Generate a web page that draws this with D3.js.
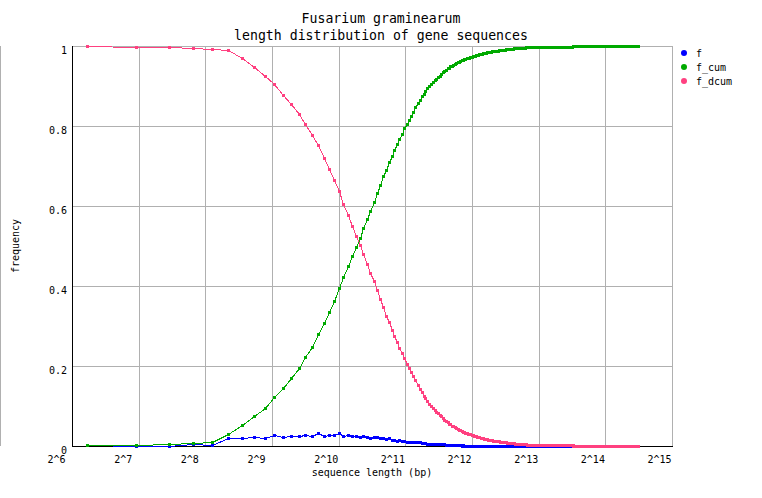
<!DOCTYPE html>
<html>
<head>
<meta charset="utf-8">
<script src="https://cdn.jsdelivr.net/npm/d3@7"></script>
<style>
  body { margin: 0; background: #fff; }
  text { font-family: "DejaVu Sans Mono", monospace; fill: #000; }
</style>
</head>
<body>
<svg id="chart"></svg>
<script>
// bin centres of the 50 bp length bins
var lengths = [
  75,125,175,225,275,325,375,425,475,525,575,625,675,725,775,825,875,925,975,1025,
  1075,1125,1175,1225,1275,1325,1375,1425,1475,1525,1575,1625,1675,1725,1775,1825,1875,1925,1975,2025,
  2075,2125,2175,2225,2275,2325,2375,2425,2475,2525,2575,2625,2675,2725,2775,2825,2875,2925,2975,3025,
  3075,3125,3175,3225,3275,3325,3375,3425,3475,3525,3575,3625,3675,3725,3775,3825,3875,3925,3975,4025,
  4075,4125,4175,4225,4275,4325,4375,4425,4475,4525,4575,4625,4675,4725,4775,4825,4875,4925,4975,5025,
  5075,5125,5175,5225,5275,5325,5375,5425,5475,5525,5575,5625,5675,5725,5775,5825,5875,5925,5975,6025,
  6075,6125,6175,6225,6275,6325,6375,6425,6475,6525,6575,6625,6675,6725,6775,6825,6875,6925,6975,7025,
  7075,7125,7175,7225,7275,7325,7375,7425,7475,7525,7575,7625,7675,7725,7775,7825,7875,7925,7975,8025,
  8075,8125,8175,8225,8275,8325,8375,8425,8475,8525,8575,8625,8675,8725,8775,8825,8875,8925,8975,9025,
  9075,9125,9175,9225,9275,9325,9375,9425,9475,9525,9575,9625,9675,9725,9775,9825,9875,9925,9975,10025,
  10075,10125,10175,10225,10275,10325,10375,10425,10475,10525,10575,10625,10675,10725,10775,10825,10875,10925,10975,11025,
  11075,11125,11175,11225,11275,11325,11375,11425,11475,11525,11575,11625,11675,11725,11775,11825,11875,11925,11975,12025,
  12075,12125,12175,12225,12275,12325,12375,12425,12475,12525,12575,12625,12675,12725,12775,12825,12875,12925,12975,13025,
  13075,13125,13175,13225,13275,13325,13375,13425,13475,13525,13575,13625,13675,13725,13775,13825,13875,13925,13975,14025,
  14075,14125,14175,14225,14275,14325,14375,14425,14475,14525,14575,14625,14675,14725,14775,14825,14875,14925,14975,15025,
  15075,15125,15175,15225,15275,15325,15375,15425,15475,15525,15575,15625,15675,15725,15775,15825,15875,15925,15975,16025,
  16075,16125,16175,16225,16275,16325,16375,16425,16475,16525,16575,16625,16675,16725,16775,16825,16875,16925,16975,17025,
  17075,17125,17175,17225,17275,17325,17375,17425,17475,17525,17575,17625,17675,17725,17775,17825,17875,17925,17975,18025,
  18075,18125,18175,18225,18275,18325,18375,18425,18475,18525,18575,18625,18675,18725,18775,18825,18875,18925,18975,19025,
  19075,19125,19175,19225,19275,19325,19375,19425,19475,19525,19575,19625,19675,19725,19775,19825,19875,19925,19975,20025,
  20075,20125,20175,20225,20275,20325,20375,20425,20475,20525,20575,20625,20675,20725,20775,20825,20875,20925,20975,21025,
  21075,21125,21175,21225,21275,21325,21375,21425,21475,21525,21575,21625,21675,21725,21775,21825,21875,21925,21975,22025,
  22075,22125,22175,22225,22275,22325,22375,22425,22475,22525,22575,22625,22675,22725,22775,22825,22875,22925,22975,23025,
  23075
];
// frequency of each bin (f)
var f = [
  0.002,0.001,0.001,0.004,0.003,0.020,0.021,0.022,0.021,0.027,0.022,0.025,0.025,0.028,0.026,0.033,0.026,0.028,0.028,0.033,
  0.026,0.027,0.025,0.024,0.023,0.024,0.023,0.020,0.022,0.023,0.020,0.021,0.017,0.019,0.015,0.016,0.013,0.014,0.013,0.013,
  0.011,0.010,0.011,0.010,0.011,0.010,0.009,0.008,0.007,0.007,0.006,0.005,0.005,0.005,0.005,0.004,0.004,0.004,0.004,0.004,
  0.004,0.003,0.003,0.002,0.003,0.002,0.002,0.002,0.002,0.002,0.002,0.002,0.001,0.002,0.001,0.001,0.001,0.001,0.001,0.001,
  0.001,0.001,0.001,0.001,0.001,0.0008,0.0008,0.0008,0.0008,0.0007,0.0007,0.0007,0.0007,0.0007,0.0007,0.0004,0.0004,0.0004,0.0004,0.0004,
  0.0004,0.0003,0.0003,0.0003,0.0003,0.0003,0.0003,0.0003,0.0003,0.0003,0.0003,0.0003,0.0003,0.0003,0.0003,0.0003,0.0003,0.0003,0.0003,0.0003,
  0.0003,0.0002,0.0002,0.0002,0.0002,0.0002,0.0002,0.0002,0.0002,0.0002,0.0002,0.0002,0.0002,0.0002,0.0001,0.0001,0.0001,0.0001,0.0001,0.0001,
  0.0001,0.0001,0.0001,0.0001,0.0001,0.0001,0.0001,0.0001,0.0001,0.0001,0.0001,0.0001,0.0001,0.0001,0.0001,0.0001,0.0001,0.0001,0.0001,0.0001,
  0.0001,0,0.0001,0,0,0.0001,0,0,0,0.0001,0,0,0,0,0.0001,0,0,0,0,0,
  0,0,0,0,0,0,0,0.0001,0,0,0,0,0,0,0,0,0,0,0,0,
  0,0,0,0.0001,0,0,0,0,0,0,0,0,0,0,0,0,0,0,0,0,
  0,0,0,0,0,0,0,0,0,0,0,0,0.0001,0,0,0,0,0,0,0,
  0,0,0,0,0,0.0001,0,0,0,0,0,0,0,0,0,0,0,0,0,0,
  0,0,0,0,0,0,0,0,0,0,0,0,0,0,0,0.0001,0,0,0,0,
  0,0,0,0,0,0,0,0,0,0.0001,0,0,0,0,0,0,0,0,0,0,
  0,0,0,0,0,0,0,0,0,0,0,0,0,0,0,0,0,0,0,0,
  0,0,0,0,0,0,0,0.0001,0,0,0,0,0,0,0,0,0,0,0,0,
  0,0,0,0,0,0,0,0,0,0,0,0,0,0,0.0001,0,0,0,0,0,
  0,0,0,0,0,0,0,0,0,0,0,0,0,0,0,0,0,0,0,0,
  0,0,0,0.0001,0,0,0,0,0,0,0,0,0,0,0,0,0,0,0,0,
  0,0,0,0,0,0,0,0,0,0,0,0,0,0,0,0,0,0,0,0,
  0,0,0,0,0,0,0,0,0,0,0,0,0.0001,0,0,0,0,0,0,0,
  0,0,0,0,0,0,0,0,0,0,0,0,0,0,0,0,0,0,0,0,
  0.0005
];
var seriesNames = ["f", "f_cum", "f_dcum"];
var seriesColors = ["#0000ff", "#00aa00", "#ff4080"];
var xTicks = [64, 128, 256, 512, 1024, 2048, 4096, 8192, 16384, 32768];
var xTickLabels = ["2^6", "2^7", "2^8", "2^9", "2^10", "2^11", "2^12", "2^13", "2^14", "2^15"];
var yTicks = [0, 0.2, 0.4, 0.6, 0.8, 1];
var yTickLabels = ["0", "0.2", "0.4", "0.6", "0.8", "1"];
var titleLines = ["Fusarium graminearum", "length distribution of gene sequences"];

var width = 762, height = 498;
var marginTop = 46, marginLeft = 72, plotRight = 672, plotBottom = 446;
var grid = "#b0b0b0";

var svg = d3.select("#chart").attr("width", width).attr("height", height);

// cumulative and reverse-cumulative curves from f
var cum = Array.from(d3.cumsum(f));
var rows = lengths.map((L, i) => ({
  L: L,
  v: [f[i], Math.min(cum[i], 1), Math.max(0, 1 - cum[i] + f[i])]
}));

var xScale = d3.scaleLog().base(2).domain([64, 32768]).range([marginLeft, plotRight]);
var yScale = d3.scaleLinear().domain([0, 1]).range([plotBottom, marginTop]);

// odd gray line on the far left
svg.append("line")
  .attr("x1", 0.5).attr("x2", 0.5)
  .attr("y1", marginTop).attr("y2", plotBottom)
  .attr("stroke", grid);

// grid
svg.append("g")
  .selectAll("line")
  .data(xTicks.slice(1))
  .join("line")
  .attr("x1", (d) => Math.round(xScale(d)) + 0.5)
  .attr("x2", (d) => Math.round(xScale(d)) + 0.5)
  .attr("y1", marginTop)
  .attr("y2", plotBottom)
  .attr("stroke", grid);
svg.append("g")
  .selectAll("line")
  .data(yTicks.slice(1))
  .join("line")
  .attr("x1", marginLeft)
  .attr("x2", plotRight)
  .attr("y1", (d) => Math.round(yScale(d)) + 0.5)
  .attr("y2", (d) => Math.round(yScale(d)) + 0.5)
  .attr("stroke", grid);

// axes
svg.append("line")
  .attr("x1", marginLeft + 0.5).attr("x2", marginLeft + 0.5)
  .attr("y1", marginTop).attr("y2", plotBottom + 1)
  .attr("stroke", "#000");
svg.append("line")
  .attr("x1", marginLeft).attr("x2", plotRight + 1)
  .attr("y1", plotBottom + 0.5).attr("y2", plotBottom + 0.5)
  .attr("stroke", "#000");

// tick labels
svg.append("g")
  .selectAll("text")
  .data(xTicks)
  .join("text")
  .attr("x", (d) => xScale(d) - 24.5)
  .attr("y", 462.5)
  .style("font-size", "10px")
  .text((d, i) => xTickLabels[i]);
svg.append("g")
  .selectAll("text")
  .data(yTicks)
  .join("text")
  .attr("x", 67)
  .attr("y", (d) => yScale(d) + 7.8)
  .attr("text-anchor", "end")
  .style("font-size", "10px")
  .text((d, i) => yTickLabels[i]);

// series
seriesNames.forEach((name, k) => {
  var line = d3.line()
    .x((d) => Math.round(xScale(d.L)) + 0.5)
    .y((d) => Math.round(yScale(d.v[k])) + 0.5);
  var g = svg.append("g").attr("class", "series-" + name);
  g.append("path")
    .datum(rows)
    .attr("d", line)
    .attr("fill", "none")
    .attr("stroke", seriesColors[k])
    .attr("stroke-width", 1)
    .attr("shape-rendering", "crispEdges");
  g.selectAll("rect")
    .data(rows)
    .join("rect")
    .attr("x", (d) => Math.round(xScale(d.L)) - 1)
    .attr("y", (d) => Math.round(yScale(d.v[k])) - 1)
    .attr("width", 3)
    .attr("height", 3)
    .attr("fill", seriesColors[k])
    .attr("shape-rendering", "crispEdges");
});

// title
svg.append("g")
  .selectAll("text")
  .data(titleLines)
  .join("text")
  .attr("x", width / 2)
  .attr("y", (d, i) => 23 + i * 17)
  .attr("text-anchor", "middle")
  .style("font-size", "13.2px")
  .text((d) => d);

// axis titles
svg.append("text")
  .attr("x", (marginLeft + plotRight) / 2)
  .attr("y", 476)
  .attr("text-anchor", "middle")
  .style("font-size", "10px")
  .text("sequence length (bp)");
svg.append("text")
  .attr("transform", `translate(19,${(marginTop + plotBottom) / 2}) rotate(-90)`)
  .attr("text-anchor", "middle")
  .style("font-size", "10px")
  .text("frequency");

// legend
var legend = svg.selectAll(".legend")
  .data(seriesNames)
  .enter()
  .append("g")
  .attr("class", "legend")
  .attr("transform", (d, i) => `translate(684,${53 + i * 14})`);
legend.append("circle")
  .attr("r", 3)
  .attr("fill", (d, i) => seriesColors[i]);
legend.append("text")
  .attr("x", 12)
  .attr("y", 3.5)
  .style("font-size", "10px")
  .text((d) => d);
</script>
</body>
</html>
